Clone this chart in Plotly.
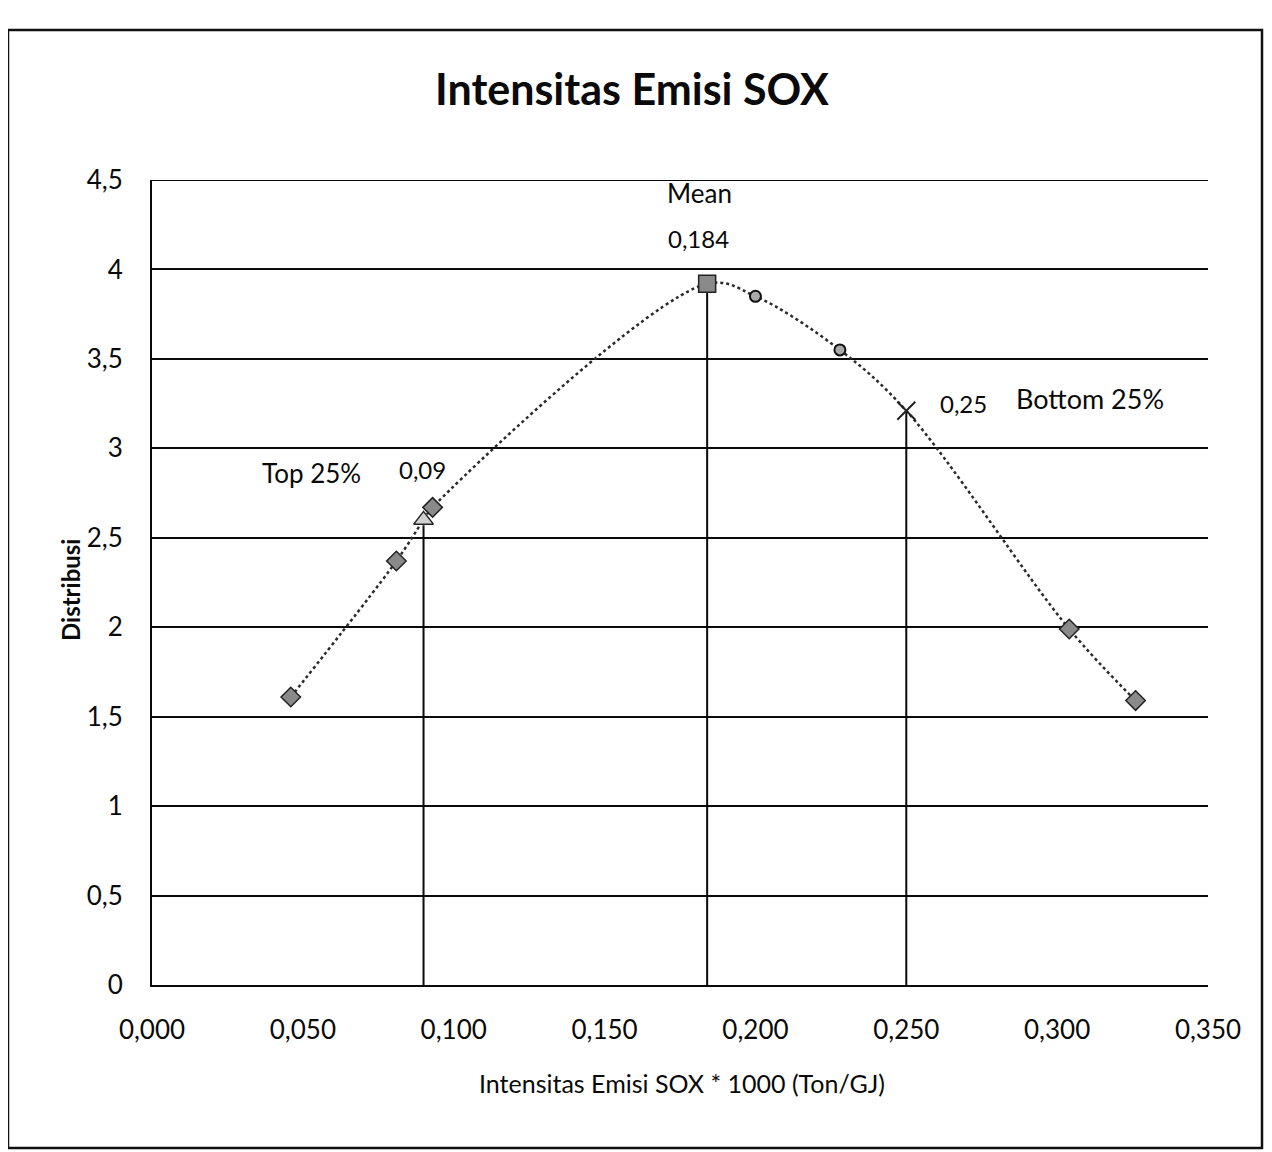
import plotly.graph_objects as go

# ---- data ----
curve_x = [0.046, 0.081, 0.090, 0.093, 0.184, 0.200, 0.228, 0.250, 0.304, 0.326]
curve_y = [1.61, 2.37, 2.60, 2.67, 3.92, 3.85, 3.55, 3.21, 1.99, 1.59]

diamond_x = [0.046, 0.081, 0.093, 0.304, 0.326]
diamond_y = [1.61, 2.37, 2.67, 1.99, 1.59]

circle_x = [0.200, 0.228]
circle_y = [3.85, 3.55]

mean_x = [0.184]
mean_y = [3.92]

top25_x = [0.090]
top25_y = [2.60]

bottom25_x = [0.250]
bottom25_y = [3.21]

drop_x = [0.090, 0.184, 0.250]
drop_top = [2.57, 3.92, 3.21]

y_max = 4.5

FONT = "Lato"
INK = "#0a0a0a"

fig = go.Figure()

# smoothed dotted curve
fig.add_trace(go.Scatter(
    x=curve_x, y=curve_y, mode="lines",
    line=dict(color="#2a2a2a", width=2.5, dash="dot", shape="spline", smoothing=1.0),
    hoverinfo="skip", showlegend=False))

# vertical drop lines
for dx, dt in zip(drop_x, drop_top):
    fig.add_trace(go.Scatter(
        x=[dx, dx], y=[0, dt], mode="lines",
        line=dict(color=INK, width=2), hoverinfo="skip", showlegend=False))

fig.add_trace(go.Scatter(
    x=diamond_x, y=diamond_y, mode="markers",
    marker=dict(symbol="diamond", size=15, color="#8a8a8a", line=dict(color="#222222", width=1.5)),
    showlegend=False))
fig.add_trace(go.Scatter(
    x=circle_x, y=circle_y, mode="markers",
    marker=dict(symbol="circle", size=11, color="#aaaaaa", line=dict(color="#111111", width=2)),
    showlegend=False))
fig.add_trace(go.Scatter(
    x=mean_x, y=mean_y, mode="markers",
    marker=dict(symbol="square", size=17, color="#8a8a8a", line=dict(color="#222222", width=1.5)),
    showlegend=False))
fig.add_trace(go.Scatter(
    x=top25_x, y=top25_y, mode="markers",
    marker=dict(symbol="triangle-up", size=17, color="#d0d0d0", line=dict(color="#222222", width=1.5)),
    showlegend=False))
fig.add_trace(go.Scatter(
    x=bottom25_x, y=bottom25_y, mode="markers",
    marker=dict(symbol="x-thin-open", size=18, color="#222222", line=dict(color="#222222", width=2)),
    showlegend=False))

OFF = 8  # page body margin
W, H = 1272 - OFF, 1152 - OFF
L, R, T, B = 152 - OFF, 1208 - OFF, 180 - OFF, 985 - OFF

def px(xp):
    return (xp - OFF - L) / (R - L)

def py(yp):
    return (B - (yp - OFF)) / (B - T)

annos = [
    dict(text="Mean", x=0.1816, y=4.43, size=26),
    dict(text="0,184", x=0.181, y=4.175, size=24),
    dict(text="Top 25%", x=0.053, y=2.862, size=26),
    dict(text="0,09", x=0.0895, y=2.879, size=24),
    dict(text="0,25", x=0.2688, y=3.253, size=24),
    dict(text="Bottom 25%", x=0.311, y=3.281, size=27),
]
annotations = []
for a in annos:
    annotations.append(dict(text=a["text"], x=a["x"], y=a["y"], xref="x", yref="y",
                            showarrow=False, xanchor="center", yanchor="middle",
                            font=dict(family=FONT, size=a["size"], color=INK)))

annotations.append(dict(text="Intensitas Emisi SOX * 1000 (Ton/GJ)", x=px(682), y=py(1083),
                        xref="paper", yref="paper", showarrow=False,
                        xanchor="center", yanchor="middle",
                        font=dict(family=FONT, size=25, color=INK)))
annotations.append(dict(text="<b>Distribusi</b>", x=px(70), y=py(590), textangle=-90,
                        xref="paper", yref="paper", showarrow=False,
                        xanchor="center", yanchor="middle",
                        font=dict(family=FONT, size=24, color=INK)))

fig.update_layout(
    width=W, height=H,
    margin=dict(l=L, r=W - R, t=T, b=H - B),
    paper_bgcolor="white", plot_bgcolor="white",
    separators=",.",
    title=dict(text="<b>Intensitas Emisi SOX</b>", xref="container", yref="container",
               x=(632 - OFF) / W, y=1 - (90 - OFF) / H, xanchor="center", yanchor="middle",
               font=dict(family=FONT, size=43, color=INK)),
    annotations=annotations,
    shapes=[
        dict(type="rect", xref="paper", yref="paper",
             x0=px(8), x1=px(1262), y0=py(1148), y1=py(30),
             line=dict(color="#111111", width=2.5), layer="below"),
        dict(type="line", xref="paper", yref="y", x0=0, x1=1, y0=y_max, y1=y_max,
             line=dict(color=INK, width=2), layer="below"),
    ],
    xaxis=dict(range=[0, 0.35], dtick=0.05, tick0=0, tickformat=".3f",
               showgrid=False, zeroline=False, showline=True, linecolor=INK,
               linewidth=2, ticks="", ticklabelstandoff=21,
               tickfont=dict(family=FONT, size=26, color=INK)),
    yaxis=dict(range=[0, y_max], dtick=0.5, tick0=0, showgrid=True, gridcolor=INK,
               gridwidth=2, zeroline=False, showline=True, linecolor=INK,
               linewidth=2, ticks="", ticklabelstandoff=22,
               tickfont=dict(family=FONT, size=26, color=INK)),
)

fig.write_html("out.html")
